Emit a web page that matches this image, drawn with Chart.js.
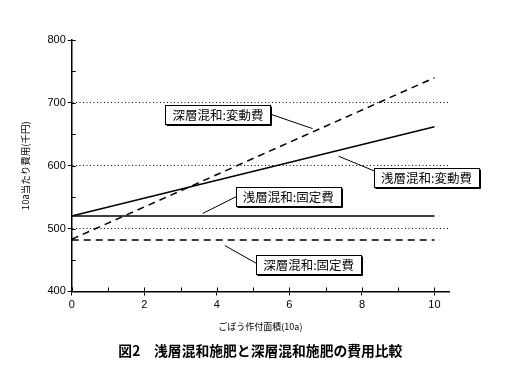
<!DOCTYPE html>
<html>
<head>
<meta charset="utf-8">
<script src="https://cdn.jsdelivr.net/npm/chart.js@4/dist/chart.umd.min.js"></script>
<style>
      html, body { margin: 0; padding: 0; background: #fff; }
      #wrap { width: 509px; height: 386px; }
</style>
</head>
<body>
<div id="wrap"><canvas id="cost_chart" width="509" height="386"></canvas></div>
<script>
// ごぼう作付面積 (10a) at the two ends of each line
const area = [0, 10];
const shallowVariable = [520, 662];
const deepVariable = [483, 740];
const shallowFixed = [520, 520];
const deepFixed = [482, 482];
const dottedLevels = [500, 600, 700];
const seriesNames = ['浅層混和:変動費', '深層混和:変動費', '浅層混和:固定費', '深層混和:固定費'];

// callout boxes: centre in data units, leader end in data units
const callouts = [
      { text: seriesNames[1], x: 4.03, y: 682, side: 'right', dy: 0, tx: 6.64, ty: 659 },
      { text: seriesNames[0], x: 9.78, y: 582, side: 'left', dy: -6, tx: 7.36, ty: 615 },
      { text: seriesNames[2], x: 5.97, y: 551, side: 'left', dy: 0, tx: 3.61, ty: 524 },
      { text: seriesNames[3], x: 6.53, y: 443, side: 'left', dy: -1, tx: 4.22, ty: 473 }
];

const JP = '"Noto Sans CJK JP", "Noto Sans", sans-serif';
const NUM = '"Liberation Sans", Arial, sans-serif';

function toPoints(xs, ys)
{
      return xs.map((v, i) => ({ x: v, y: ys[i] }));
}

// small ticks pointing into the plot, like the original
const innerTicks = {
      id: 'innerTicks',
      afterDraw(chart)
      {
            const ctx = chart.ctx;
            const sx = chart.scales.x;
            const sy = chart.scales.y;
            ctx.save();
            ctx.strokeStyle = '#000';
            ctx.lineWidth = 1;
            ctx.beginPath();
            sx.ticks.forEach(t =>
            {
                  const px = Math.round(sx.getPixelForValue(t.value)) + 0.5;
                  ctx.moveTo(px, sy.bottom);
                  ctx.lineTo(px, sy.bottom - 4);
            });
            sy.ticks.forEach(t =>
            {
                  const py = Math.round(sy.getPixelForValue(t.value)) + 0.5;
                  ctx.moveTo(sx.left, py);
                  ctx.lineTo(sx.left + 4, py);
            });
            ctx.stroke();
            ctx.restore();
      }
};

const calloutPlugin = {
      id: 'callouts',
      afterDraw(chart)
      {
            const ctx = chart.ctx;
            const sx = chart.scales.x;
            const sy = chart.scales.y;
            ctx.save();
            ctx.font = '12.5px ' + JP;
            ctx.textAlign = 'center';
            ctx.textBaseline = 'middle';
            callouts.forEach(c =>
            {
                  const cx = sx.getPixelForValue(c.x);
                  const cy = sy.getPixelForValue(c.y);
                  const w = Math.round(ctx.measureText(c.text).width + 14);
                  const h = 19;
                  const left = Math.round(cx - w / 2) + 0.5;
                  const top = Math.round(cy - h / 2) + 0.5;

                  // leader line
                  const startX = c.side === 'right' ? left + w : left;
                  ctx.strokeStyle = '#000';
                  ctx.lineWidth = 1;
                  ctx.beginPath();
                  ctx.moveTo(startX, cy + c.dy);
                  ctx.lineTo(sx.getPixelForValue(c.tx), sy.getPixelForValue(c.ty));
                  ctx.stroke();

                  // box with a little shadow on right and bottom
                  ctx.fillStyle = '#fff';
                  ctx.fillRect(left, top, w, h);
                  ctx.strokeRect(left, top, w, h);
                  ctx.beginPath();
                  ctx.moveTo(left + 1, top + h + 1);
                  ctx.lineTo(left + w + 1, top + h + 1);
                  ctx.lineTo(left + w + 1, top + 1);
                  ctx.stroke();

                  ctx.fillStyle = '#000';
                  ctx.fillText(c.text, cx, cy + 1);
            });
            ctx.restore();
      }
};

const lineStyle = {
      borderColor: '#000',
      borderWidth: 1.5,
      pointRadius: 0,
      fill: false,
      tension: 0
};

const config = {
      type: 'line',
      data: {
            datasets: [
                  Object.assign({ label: seriesNames[0], data: toPoints(area, shallowVariable) }, lineStyle),
                  Object.assign({ label: seriesNames[1], data: toPoints(area, deepVariable), borderDash: [7, 5] }, lineStyle),
                  Object.assign({ label: seriesNames[2], data: toPoints(area, shallowFixed) }, lineStyle),
                  Object.assign({ label: seriesNames[3], data: toPoints(area, deepFixed), borderDash: [7, 5] }, lineStyle)
            ]
      },
      options: {
            responsive: false,
            animation: false,
            layout: {
                  padding: { left: 20, right: 60, top: 40, bottom: 27 }
            },
            scales: {
                  x: {
                        type: 'linear',
                        min: 0,
                        max: 10.4,
                        ticks: {
                              stepSize: 1,
                              includeBounds: false,
                              autoSkip: false,
                              maxRotation: 0,
                              padding: 3,
                              color: '#000',
                              font: { family: NUM, size: 11 },
                              callback: v => (v % 2 === 0 ? v : '')
                        },
                        grid: {
                              drawOnChartArea: false,
                              tickLength: 4,
                              tickColor: ctx => (ctx.tick && ctx.tick.value % 2 === 0 ? '#000' : 'rgba(0,0,0,0)')
                        },
                        border: { color: '#000', width: 1.5 },
                        title: {
                              display: true,
                              text: 'ごぼう作付面積(10a)',
                              color: '#000',
                              font: { family: JP, size: 9 },
                              padding: { top: 7, bottom: 0 }
                        }
                  },
                  y: {
                        min: 400,
                        max: 800,
                        ticks: {
                              stepSize: 50,
                              autoSkip: false,
                              padding: 2,
                              color: '#000',
                              font: { family: NUM, size: 11 },
                              callback: v => (v % 100 === 0 ? v : '')
                        },
                        grid: {
                              lineWidth: 1,
                              tickLength: 4,
                              color: ctx => (ctx.tick && dottedLevels.includes(ctx.tick.value) ? '#000' : 'rgba(0,0,0,0)'),
                              tickColor: ctx => (ctx.tick && ctx.tick.value % 100 === 0 ? '#000' : 'rgba(0,0,0,0)')
                        },
                        border: { color: '#000', width: 1.5, dash: [1, 2.5] },
                        title: {
                              display: true,
                              text: '10a当たり費用(千円)',
                              color: '#000',
                              font: { family: JP, size: 9.5 },
                              padding: { top: 0, bottom: 14 }
                        }
                  }
            },
            plugins: {
                  legend: { display: false },
                  tooltip: { enabled: false },
                  title: {
                        display: true,
                        fullSize: false,
                        position: 'bottom',
                        text: '図2　浅層混和施肥と深層混和施肥の費用比較',
                        color: '#000',
                        font: { family: JP, size: 13.8, weight: 'bold' },
                        padding: { top: 10, bottom: 0 }
                  }
            }
      },
      plugins: [innerTicks, calloutPlugin]
};

new Chart(document.getElementById('cost_chart'), config);
</script>
</body>
</html>
